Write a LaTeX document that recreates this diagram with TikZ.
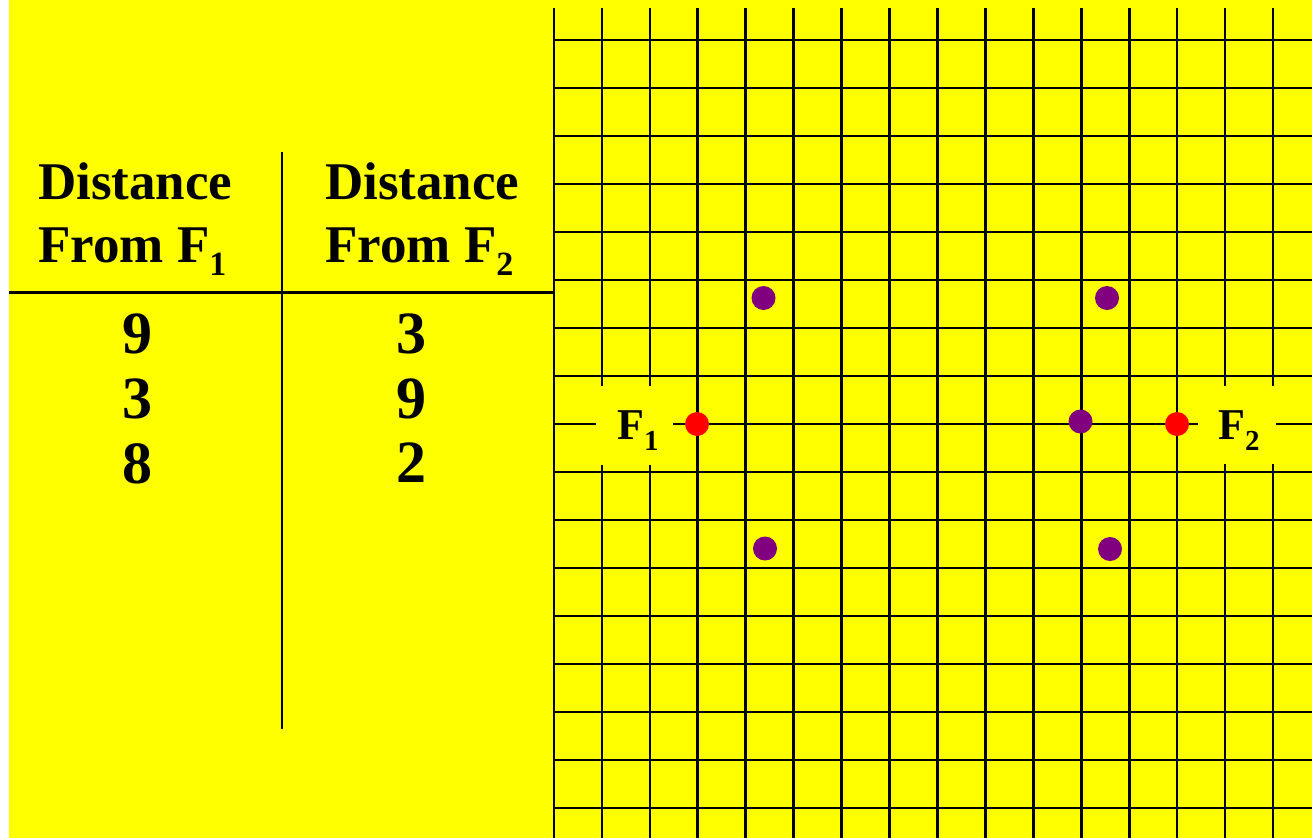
\documentclass[tikz,border=0pt]{standalone}
\usepackage{fontspec}
\setmainfont{Liberation Serif}
\definecolor{bgyellow}{RGB}{255,255,0}
\definecolor{dotpurple}{RGB}{128,0,128}
\definecolor{dotred}{RGB}{255,0,0}
\tikzset{
  gridline/.style={line width=2.7pt, black},
  tableline/.style={line width=2.8pt, black},
  hdr/.style={anchor=base west, inner sep=0pt, font=\fontsize{53}{53}\selectfont\bfseries},
  num/.style={anchor=base, inner sep=0pt, font=\fontsize{60}{60}\selectfont\bfseries},
  flabel/.style={anchor=base west, inner sep=0pt, font=\fontsize{44}{44}\selectfont\bfseries},
  labelbox/.style={fill=bgyellow, draw=none},
  focus/.style={circle, fill=dotred, minimum size=24pt, inner sep=0pt},
  pt/.style={circle, fill=dotpurple, minimum size=24pt, inner sep=0pt}
}
\newcommand{\bigsub}[1]{{\fontsize{34}{34}\selectfont\raisebox{-13pt}{#1}}}
\newcommand{\smallsub}[1]{{\fontsize{29}{29}\selectfont\raisebox{-11pt}{#1}}}
\begin{document}
\begin{tikzpicture}[x=1pt,y=-1pt]
\useasboundingbox (0,0) rectangle (1312,838);
\fill[white] (0,0) rectangle (1312,838);
\fill[bgyellow] (9,0) rectangle (1312,838);
% grid
\foreach \k in {0,...,15}{
  \draw[gridline] ({554+47.93*\k},8) -- ({554+47.93*\k},838);
}
\foreach \j in {0,...,16}{
  \draw[gridline] (554,{40+48*\j}) -- (1312,{40+48*\j});
}
% label boxes
\fill[labelbox] (596,386) rectangle (673,465);
\fill[labelbox] (1198,386) rectangle (1276,464);
\node[flabel] (f1lab) at (617,439) {F\smallsub{1}};
\node[flabel] (f2lab) at (1218,439) {F\smallsub{2}};
% foci and points
\node[focus] (F1) at (697,424) {};
\node[focus] (F2) at (1177,424) {};
\node[pt] (p1) at (763.5,298) {};
\node[pt] (p2) at (1107,298) {};
\node[pt] (p3) at (1080.5,421.5) {};
\node[pt] (p4) at (765,548.5) {};
\node[pt] (p5) at (1110,549) {};
% table
\coordinate (vtop) at (282,152);
\coordinate (vbot) at (282,729);
\coordinate (hl) at (9,292.5);
\coordinate (hr) at (554,292.5);
\draw[tableline] (vtop) -- (vbot);
\draw[tableline] (hl) -- (hr);
\node[hdr] (h1a) at (38,199) {Distance};
\node[hdr] (h1b) at (38,262) {From F\bigsub{1}};
\node[hdr] (h2a) at (325,199) {Distance};
\node[hdr] (h2b) at (325,262) {From F\bigsub{2}};
\node[num] (a1) at (137,353) {9};
\node[num] (a2) at (137,418) {3};
\node[num] (a3) at (137,483) {8};
\node[num] (b1) at (411,353) {3};
\node[num] (b2) at (411,418) {9};
\node[num] (b3) at (411,482) {2};
\end{tikzpicture}
\end{document}
